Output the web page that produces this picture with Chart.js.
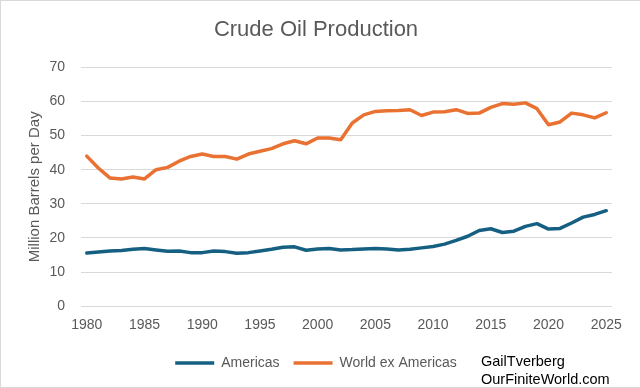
<!DOCTYPE html>
<html>
<head>
<meta charset="utf-8">
<script src="https://cdn.jsdelivr.net/npm/chart.js@4.4.1/dist/chart.umd.min.js"></script>
<style>
    body { margin: 0; background: #fff; }
    #wrap { position: relative; width: 640px; height: 388px; }
    #frame {
        position: absolute; left: 0; top: 0; width: 639px; height: 386px;
        border-top: 1px solid #d9d9d9; border-left: 1px solid #d9d9d9; border-bottom: 1px solid #d9d9d9;
        pointer-events: none;
    }
    #credit {
        position: absolute; left: 481px; top: 352px;
        font: 14.5px "Liberation Sans", Arial, sans-serif; line-height: 18px; color: #000;
    }
</style>
</head>
<body>
<div id="wrap">
    <canvas id="oilChart" width="640" height="388"></canvas>
    <div id="frame"></div>
    <div id="credit">GailTverberg<br>OurFiniteWorld.com</div>
</div>
<script>
// years 1980 - 2025
const years = [
    1980, 1981, 1982, 1983, 1984, 1985, 1986, 1987, 1988, 1989,
    1990, 1991, 1992, 1993, 1994, 1995, 1996, 1997, 1998, 1999,
    2000, 2001, 2002, 2003, 2004, 2005, 2006, 2007, 2008, 2009,
    2010, 2011, 2012, 2013, 2014, 2015, 2016, 2017, 2018, 2019,
    2020, 2021, 2022, 2023, 2024, 2025
];

// million barrels per day
const americas = [
    15.6, 15.9, 16.2, 16.3, 16.7, 16.9, 16.5, 16.1, 16.2, 15.7,
    15.7, 16.2, 16.0, 15.5, 15.7, 16.2, 16.7, 17.3, 17.4, 16.4,
    16.8, 16.9, 16.5, 16.6, 16.8, 16.9, 16.8, 16.5, 16.7, 17.1,
    17.5, 18.2, 19.3, 20.5, 22.2, 22.7, 21.6, 22.0, 23.4, 24.2,
    22.6, 22.8, 24.4, 26.1, 26.9, 28.0
];

const worldExAmericas = [
    44.0, 40.5, 37.6, 37.3, 37.9, 37.3, 40.0, 40.7, 42.5, 43.9,
    44.6, 43.9, 43.9, 43.1, 44.6, 45.4, 46.2, 47.6, 48.5, 47.6,
    49.3, 49.3, 48.8, 53.7, 56.1, 57.1, 57.3, 57.4, 57.6, 55.9,
    56.9, 57.0, 57.6, 56.5, 56.6, 58.3, 59.4, 59.2, 59.6, 57.9,
    53.2, 54.0, 56.6, 56.1, 55.2, 56.7
];

const yTicks = [0, 10, 20, 30, 40, 50, 60, 70];

const textColor = '#595959';
const fontFamily = '"Liberation Sans", Arial, sans-serif';

function renderOilChart() {
    const ctx = document.getElementById('oilChart').getContext('2d');

    new Chart(ctx, {
        type: 'line',
        data: {
            labels: years,
            datasets: [
                {
                    label: 'Americas',
                    data: americas,
                    borderColor: '#156082',
                    backgroundColor: '#156082',
                    borderWidth: 3.5,
                    pointRadius: 0,
                    borderJoinStyle: 'round',
                    borderCapStyle: 'round',
                    tension: 0
                },
                {
                    label: 'World ex Americas',
                    data: worldExAmericas,
                    borderColor: '#E97132',
                    backgroundColor: '#E97132',
                    borderWidth: 3.5,
                    pointRadius: 0,
                    borderJoinStyle: 'round',
                    borderCapStyle: 'round',
                    tension: 0
                }
            ]
        },
        options: {
            responsive: false,
            animation: false,
            layout: {
                padding: { left: 20, right: 28, top: 0, bottom: 8 }
            },
            plugins: {
                title: {
                    display: true,
                    text: 'Crude Oil Production',
                    color: textColor,
                    font: { family: fontFamily, size: 22, weight: 'normal' },
                    padding: { top: 17, bottom: 24 }
                },
                legend: {
                    position: 'bottom',
                    labels: {
                        color: textColor,
                        font: { family: fontFamily, size: 14 },
                        usePointStyle: true,
                        pointStyle: 'line',
                        pointStyleWidth: 39,
                        boxHeight: 4,
                        padding: 14
                    }
                },
                tooltip: { enabled: false }
            },
            scales: {
                x: {
                    offset: true,
                    afterFit: axis => { axis.height += 5; },
                    grid: { display: false },
                    border: { display: false },
                    ticks: {
                        color: textColor,
                        font: { family: fontFamily, size: 14 },
                        autoSkip: false,
                        maxRotation: 0,
                        padding: 3,
                        callback: function (value, index) {
                            const y = years[index];
                            return y % 5 === 0 ? String(y) : '';
                        }
                    }
                },
                y: {
                    min: yTicks[0],
                    max: yTicks[yTicks.length - 1],
                    afterBuildTicks: axis => { axis.ticks = yTicks.map(v => ({ value: v })); },
                    afterFit: axis => { axis.width = 61; },
                    grid: { color: '#d9d9d9', lineWidth: 1, drawTicks: false },
                    border: { display: false },
                    ticks: {
                        color: textColor,
                        font: { family: fontFamily, size: 14 },
                        padding: 16
                    },
                    title: {
                        display: true,
                        text: 'Million Barrels per Day',
                        color: textColor,
                        font: { family: fontFamily, size: 15 },
                        padding: { top: 6, bottom: 5 }
                    }
                }
            }
        }
    });
}

document.addEventListener("DOMContentLoaded", () => {
    renderOilChart();
});
</script>
</body>
</html>
